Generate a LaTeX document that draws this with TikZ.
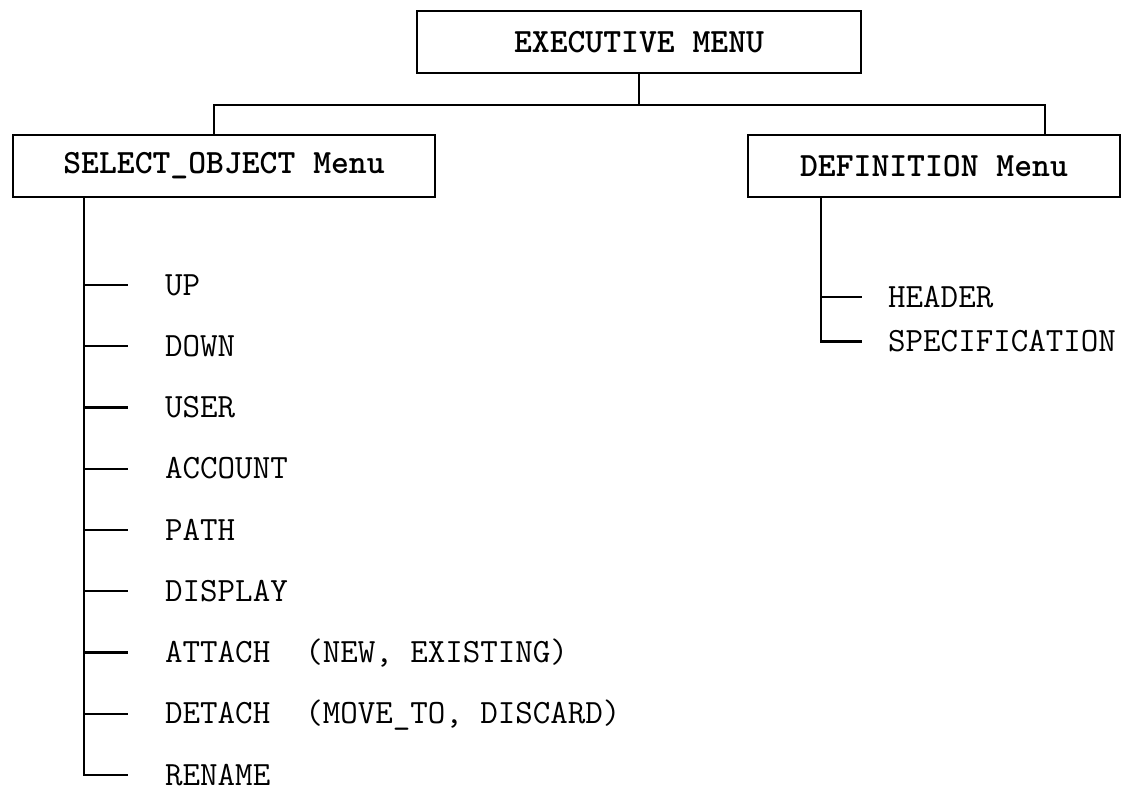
\documentclass[tikz,border=0pt]{standalone}
\usetikzlibrary{positioning}
\tikzset{menu/.style={draw,line width=2.6pt,minimum height=62pt,inner sep=0pt,font=\ttfamily\bfseries\fontsize{34}{34}\selectfont},
  entry/.style={anchor=west,inner sep=0pt,text height=20pt,text depth=0pt,font=\ttfamily\fontsize{34}{34}\selectfont},
  link/.style={line width=2.2pt}}

\begin{document}
\begin{tikzpicture}[x=1pt,y=-1pt]
\useasboundingbox (0,0) rectangle (1131,792);
\node[menu,minimum width=444pt] (exec) at (639,42) {EXECUTIVE MENU};
\node[menu,minimum width=422pt] (sel) at (224,166) {SELECT\_OBJECT Menu};
\node[menu,minimum width=372pt] (def) at (934,166) {DEFINITION Menu};
% top level
\draw[link] (exec.south) -- ++(0,31) coordinate (bus);
\draw[link] ([xshift=-10pt]sel.north) |- (bus) -| ([xshift=111pt]def.north);
% select_object entries
\foreach \t [count=\i] in {UP,DOWN,USER,ACCOUNT,PATH,DISPLAY,{ATTACH\ \ (NEW, EXISTING)},{DETACH\ \ (MOVE\_TO, DISCARD)},RENAME}
  \node[entry] (s\i) at (165,{285+61.25*(\i-1)}) {\t};
\draw[link] ([xshift=-140pt]sel.south) |- ([xshift=-37pt]s9.west);
\foreach \i in {1,...,8}\draw[link] ([xshift=-81pt]s\i.west) -- ++(44,0);
% definition entries
\node[entry] (hd) at (888,297) {HEADER};
\node[entry,below=24pt of hd.south west,anchor=north west] (sp) {SPECIFICATION};
\draw[link] ([xshift=-113pt]def.south) |- ([xshift=-26pt]sp.west);
\draw[link] ([xshift=-67pt]hd.west) -- ++(41,0);
\end{tikzpicture}
\end{document}
